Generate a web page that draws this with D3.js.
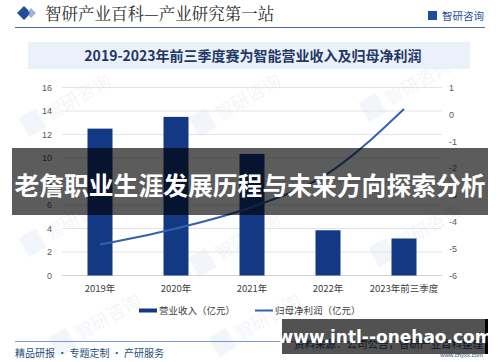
<!DOCTYPE html>
<html>
<head>
<meta charset="utf-8">
<script src="https://cdn.jsdelivr.net/npm/d3@7"></script>
<style>
  html, body { margin: 0; padding: 0; background: #fff; }
  svg { display: block; }
</style>
</head>
<body>
<div id="chart"></div>
<script>
const years = ["2019年", "2020年", "2021年", "2022年", "2023年前三季度"];
const revenue = [12.5, 13.5, 10.35, 3.85, 3.15];
const netProfit = [-4.85, -4.25, -3.45, -2.2, 0.2];
const leftTicks = [0, 2, 4, 6, 8, 10, 12, 14, 16];
const rightTicks = [-6, -5, -4, -3, -2, -1, 0, 1];

const W = 500, H = 362;
const CJK = "'Noto Sans CJK SC', 'Noto Sans', sans-serif";
const NUM = "'Liberation Sans', Arial, sans-serif";
const barColor = "#133985";
const lineColor = "#3462b0";

const svg = d3.select("#chart").append("svg")
  .attr("width", W)
  .attr("height", H);

// faint watermarks
const marks = [[60, 110], [230, 110], [400, 95], [60, 230], [230, 250], [410, 240], [90, 330], [250, 330]];
marks.forEach(([mx, my]) => {
  const g = svg.append("g")
    .attr("transform", `translate(${mx},${my}) rotate(-30)`)
    .style("opacity", 0.05);
  g.append("rect").attr("x", -40).attr("y", -14).attr("width", 20).attr("height", 22).attr("fill", "#1f4e9a");
  g.append("text").attr("x", -14).attr("y", 4)
    .style("font-family", CJK).style("font-size", "18px").style("fill", "#1f4e9a")
    .text("智研咨询");
});

// header
svg.append("path")
  .attr("d", "M24,6 L31,13 L24,20 L17,13 Z")
  .attr("fill", "#1f4e9a");
svg.append("path")
  .attr("d", "M31,8 L36,13 L31,18 L28,15 L30,13 L28,11 Z")
  .attr("fill", "#9db3dc");
svg.append("text")
  .attr("x", 45).attr("y", 20)
  .style("font-family", "'Noto Serif CJK SC', " + CJK)
  .style("font-size", "16.5px")
  .style("fill", "#2b2b2b")
  .text("智研产业百科—产业研究第一站");
svg.append("rect").attr("x", 428).attr("y", 11).attr("width", 9).attr("height", 9).attr("fill", "#1f4e9a");
svg.append("text")
  .attr("x", 442).attr("y", 19.5)
  .style("font-family", CJK)
  .style("font-size", "10.5px")
  .style("fill", "#1f4e9a")
  .text("智研咨询");
svg.append("line")
  .attr("x1", 15).attr("x2", 485).attr("y1", 27.5).attr("y2", 27.5)
  .attr("stroke", "#4a69a6").attr("stroke-width", 1);

// title box
svg.append("rect")
  .attr("x", 28).attr("y", 42).attr("width", 442).attr("height", 27)
  .attr("fill", "#ebf1fa");
svg.append("text")
  .attr("x", 253).attr("y", 61)
  .attr("text-anchor", "middle")
  .style("font-family", CJK)
  .style("font-weight", "bold")
  .style("font-size", "14px")
  .style("fill", "#1f3864")
  .text("2019-2023年前三季度赛为智能营业收入及归母净利润");

// scales
const x = d3.scaleBand().domain(years).range([62, 442]);
const yL = d3.scaleLinear().domain([0, 16]).range([275.5, 87.5]);
const yR = d3.scaleLinear().domain([-6, 1]).range([275.5, 87.5]);

// grid
svg.append("g")
  .selectAll("line")
  .data(leftTicks)
  .join("line")
  .attr("x1", 62).attr("x2", 442)
  .attr("y1", d => yL(d)).attr("y2", d => yL(d))
  .attr("stroke", d => d === 0 ? "#d0d0d0" : "#e4e4e4")
  .attr("stroke-width", 1);

// left axis
const axL = svg.append("g")
  .attr("transform", "translate(52,0)")
  .call(d3.axisLeft(yL).tickValues(leftTicks).tickSize(0).tickPadding(0));
axL.select(".domain").remove();
axL.selectAll("text")
  .style("font-family", NUM).style("font-size", "9px").style("fill", "#595959");

// right axis
const axR = svg.append("g")
  .attr("transform", "translate(449,0)")
  .call(d3.axisRight(yR).tickValues(rightTicks).tickSize(0).tickPadding(0).tickFormat(d => String(d)));
axR.select(".domain").remove();
axR.selectAll("text")
  .style("font-family", NUM).style("font-size", "9px").style("fill", "#595959");

// x axis labels
const axX = svg.append("g")
  .attr("transform", "translate(0,282)")
  .call(d3.axisBottom(x).tickSize(0).tickPadding(3));
axX.select(".domain").remove();
axX.selectAll("text")
  .style("font-family", CJK).style("font-size", "9.5px").style("fill", "#404040");

// bars
const bw = 25;
svg.append("g")
  .selectAll("rect")
  .data(years)
  .join("rect")
  .attr("x", (d, i) => x(d) + x.bandwidth() / 2 - bw / 2)
  .attr("y", (d, i) => yL(revenue[i]))
  .attr("width", bw)
  .attr("height", (d, i) => yL(0) - yL(revenue[i]))
  .attr("fill", barColor);

// line
const line = d3.line()
  .x((d, i) => x(years[i]) + x.bandwidth() / 2)
  .y(d => yR(d))
  .curve(d3.curveMonotoneX);
svg.append("path")
  .attr("d", line(netProfit))
  .attr("fill", "none")
  .attr("stroke", lineColor)
  .attr("stroke-width", 2);

// legend
svg.append("rect").attr("x", 139).attr("y", 308.5).attr("width", 18).attr("height", 4).attr("fill", barColor);
svg.append("text").attr("x", 159).attr("y", 314)
  .style("font-family", CJK).style("font-size", "9.5px").style("fill", "#404040")
  .text("营业收入（亿元）");
svg.append("line").attr("x1", 255).attr("x2", 273).attr("y1", 310.5).attr("y2", 310.5)
  .attr("stroke", lineColor).attr("stroke-width", 2);
svg.append("text").attr("x", 275).attr("y", 314)
  .style("font-family", CJK).style("font-size", "9.5px").style("fill", "#404040")
  .text("归母净利润（亿元）");

// footer
svg.append("line")
  .attr("x1", 15).attr("x2", 485).attr("y1", 341.5).attr("y2", 341.5)
  .attr("stroke", "#7d96c8").attr("stroke-width", 1);
svg.append("text").attr("x", 15).attr("y", 357)
  .style("font-family", CJK).style("font-size", "10px").style("fill", "#1f4e79")
  .text("精品研报 · 专题定制 · 产研服务");
svg.append("text").attr("x", 483).attr("y", 348).attr("text-anchor", "end")
  .style("font-family", CJK).style("font-size", "10.5px").style("fill", "#1f4e79")
  .text("资料来源：公司公告，智研产业百科整理");
svg.append("text").attr("x", 483).attr("y", 357).attr("text-anchor", "end")
  .style("font-family", NUM).style("font-size", "6px").style("fill", "#1f4e79")
  .text("www.chyxx.com");

// overlay banner
svg.append("rect")
  .attr("x", 12).attr("y", 148).attr("width", 476).attr("height", 67)
  .attr("fill", "rgba(0,0,0,0.64)");
svg.append("text")
  .attr("x", 250).attr("y", 195)
  .attr("text-anchor", "middle")
  .style("font-family", CJK)
  .style("font-weight", "bold")
  .style("font-size", "24.8px")
  .style("fill", "#fff")
  .text("老詹职业生涯发展历程与未来方向探索分析");

// overlay url box
svg.append("rect")
  .attr("x", 282).attr("y", 319).attr("width", 206).attr("height", 35)
  .attr("fill", "rgba(0,0,0,0.68)");
svg.append("rect")
  .attr("x", 485).attr("y", 319).attr("width", 3).attr("height", 35)
  .attr("fill", "#000");
svg.append("text")
  .attr("x", 385).attr("y", 343)
  .attr("text-anchor", "middle")
  .style("font-family", "'DejaVu Sans', sans-serif")
  .style("font-weight", "bold")
  .style("font-size", "17px")
  .style("fill", "#fff")
  .text("www.intl--onehao.com");
</script>
</body>
</html>
